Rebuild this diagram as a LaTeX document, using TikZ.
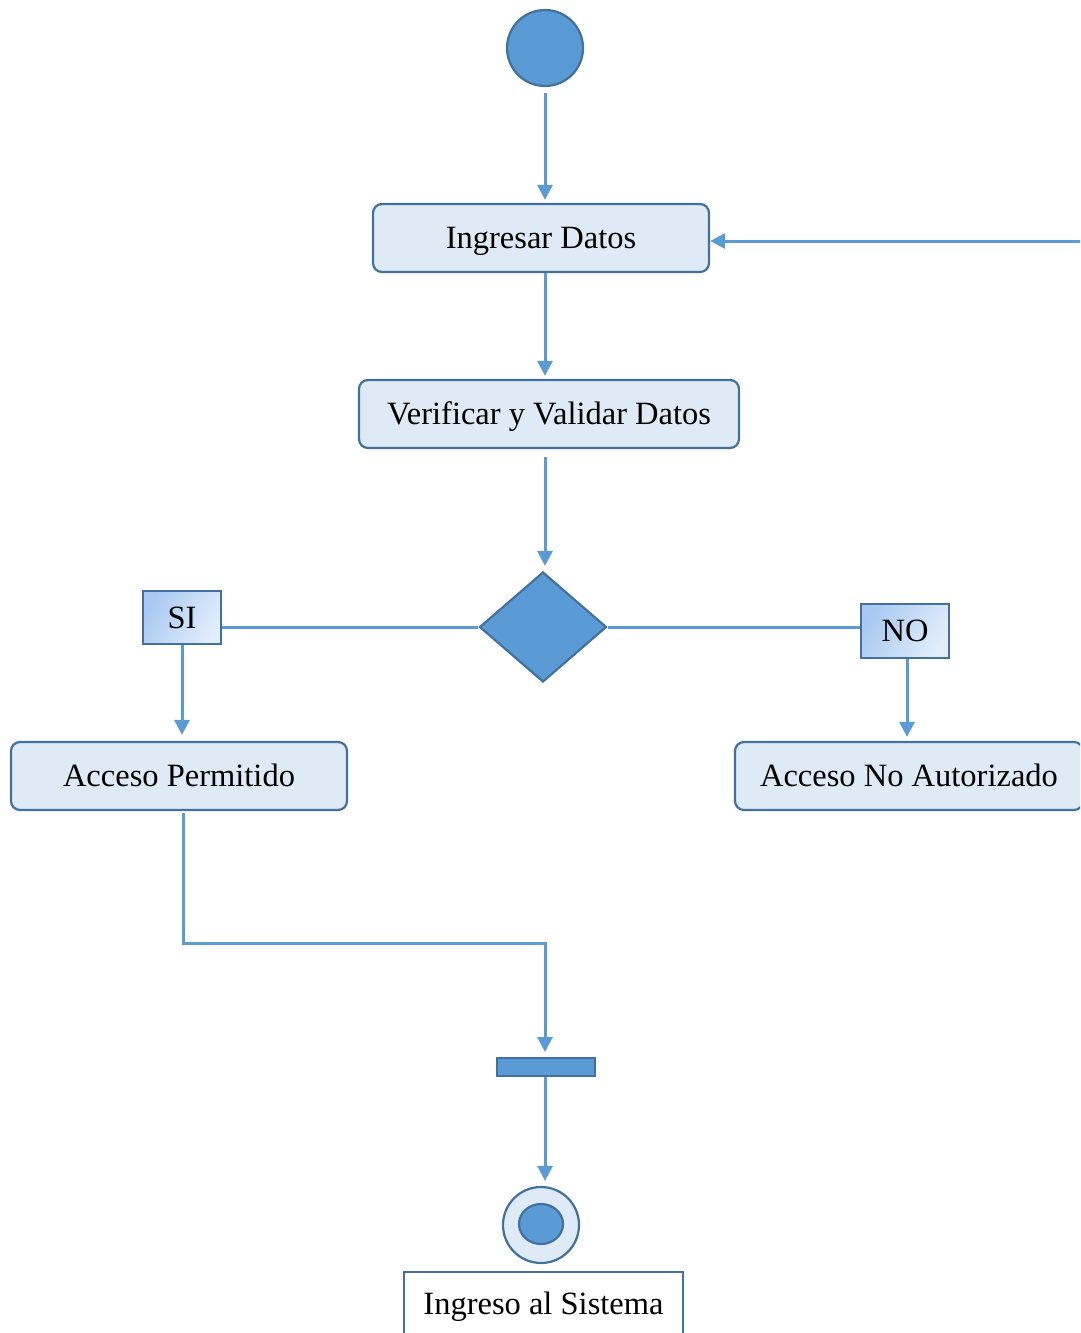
\documentclass[tikz,border=0pt]{standalone}
\usepackage{fontspec}
\setmainfont{Liberation Serif}
\usetikzlibrary{arrows.meta,shapes.geometric}
\definecolor{flowblue}{HTML}{5B9BD5}
\definecolor{edgeblue}{HTML}{41719C}
\definecolor{paleblue}{HTML}{DEEBF7}
\definecolor{shadelow}{HTML}{A9C9F2}
\definecolor{shadehigh}{HTML}{E2EDFB}
\begin{document}
\begin{tikzpicture}[x=1pt,y=-1pt,
  txt/.style={font=\fontsize{32.5}{38}\selectfont,text height=24pt,text depth=3pt},
  action/.style={txt,draw=edgeblue,line width=2.2pt,fill=paleblue,rounded corners=9pt,
    minimum height=68pt,inner sep=0pt},
  guard/.style={txt,draw=edgeblue,line width=2.2pt,left color=shadelow,right color=shadehigh,
    shading angle=60,inner sep=0pt},
  flow/.style={draw=flowblue,line width=3pt},
  flowarrow/.style={flow,-{Triangle[length=15pt,width=15pt]}}
]
\clip (0,0) rectangle (1080,1333);
\fill[white] (0,0) rectangle (1080,1333);

% start node
\node[circle,draw=edgeblue,line width=2.2pt,fill=flowblue,minimum size=76pt,inner sep=0pt] (start) at (545,48) {};

% actions
\node[action,minimum width=336pt] (ingresar) at (541,238) {Ingresar Datos};
\node[action,minimum width=380pt] (verificar) at (549,414) {Verificar y Validar Datos};

% decision
\node[diamond,draw=edgeblue,line width=2.2pt,fill=flowblue,minimum width=127pt,minimum height=110pt,inner sep=0pt] (dec) at (543,627) {};

% guards
\node[guard,minimum width=78pt,minimum height=53pt] (si) at (182,617.5) {SI};
\node[guard,minimum width=88pt,minimum height=54pt] (no) at (905,631) {NO};

\node[action,minimum width=336pt] (permitido) at (179,776) {Acceso Permitido};
\node[action,minimum width=348pt] (noaut) at (909,776) {Acceso No Autorizado};

% join bar
\node[rectangle,draw=edgeblue,line width=2pt,fill=flowblue,minimum width=98pt,minimum height=18pt,inner sep=0pt] (bar) at (546,1067) {};

% final node
\node[circle,draw=edgeblue,line width=2.2pt,fill=paleblue,minimum size=76pt,inner sep=0pt] (final) at (541,1225) {};
\node[ellipse,draw=edgeblue,line width=2.2pt,fill=flowblue,minimum width=44pt,minimum height=40pt,inner sep=0pt] (finalin) at (541,1224) {};

% label box under final node
\node[txt,draw=edgeblue,line width=2pt,fill=white,minimum width=279pt,minimum height=64pt,inner sep=0pt] (ingreso) at (543.5,1304) {Ingreso al Sistema};

% feedback entry from the right
\coordinate (back) at (1082,241);

% connectors
\draw[flowarrow] ([yshift=-6pt]start.south) -- ([yshift=3pt]ingresar.north -| start);
\draw[flowarrow] (ingresar.south -| start) -- ([yshift=3pt]verificar.north -| start);
\draw[flowarrow] ([yshift=-8pt]verificar.south -| start) -- ([yshift=5pt]dec.north -| start);
\draw[flowarrow] (back) -- (ingresar.east |- back);
\draw[flow] (dec.west) -- (si.east |- dec.west);
\draw[flow] (dec.east) -- (no.west |- dec.east);
\draw[flowarrow] (si.south) -- ([yshift=6pt]permitido.north -| si.south);
\draw[flowarrow] (no.south -| 907,0) -- ([yshift=4pt]noaut.north -| 907,0);
\coordinate (bend) at (545,943);
\draw[flowarrow] ([yshift=-2pt]permitido.south -| 183,0) |- (bend) -- ([yshift=5pt]bar.north -| bend);
\draw[flowarrow] (bar.south -| bend) -- ([yshift=5pt]final.north -| bend);
\end{tikzpicture}
\end{document}
